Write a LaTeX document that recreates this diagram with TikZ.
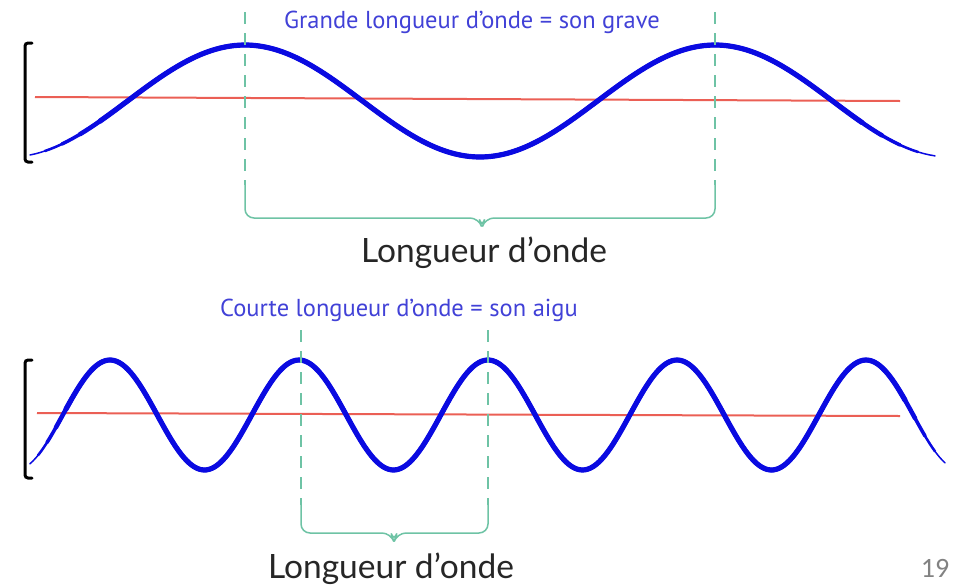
\documentclass[tikz,border=0pt]{standalone}
\usepackage{fontspec}
\newfontfamily\labelfont{PT Sans}
\newfontfamily\lenfont{Lato}
\newfontfamily\pagefont{Carlito}
\definecolor{waveblue}{RGB}{10,10,225}
\definecolor{axisred}{RGB}{235,95,85}
\definecolor{guidegreen}{RGB}{110,195,165}
\definecolor{labelblue}{RGB}{65,65,215}
\definecolor{pagegray}{RGB}{130,130,130}
\begin{document}
\begin{tikzpicture}[x=1pt,y=-1pt,
  wave/.style={waveblue,line cap=round},
  axis/.style={axisred,line width=2pt},
  bracket/.style={black,line width=3pt,rounded corners=3pt,line cap=round},
  guide/.style={guidegreen,line width=1.5pt,dash pattern=on 12pt off 9pt},
  brace/.style={guidegreen,line width=1.5pt,rounded corners=9pt},
  bluelabel/.style={text=labelblue,font=\labelfont\fontsize{24.5}{28}\selectfont,inner sep=0pt},
  lenlabel/.style={text=black!85,font=\lenfont\fontsize{33.5}{38}\selectfont,inner sep=0pt},
  pagenum/.style={text=pagegray,font=\pagefont\fontsize{28}{32}\selectfont,inner sep=0pt}]
\useasboundingbox (0,0) rectangle (966,584);
% long wave
\draw[axis] (35,97) -- (900,101);
\foreach \w/\a/\b in {1.5/30/935,2.5/45/918,3.5/62/900,4.5/80/882,5.2/100/862}
  \draw[wave,line width=\w pt] plot[domain=\a:\b,samples=160] (\x,{101-56*cos((\x-245)/470*360)});
\draw[bracket] (32,43) -- (25,43) -- (25,162) -- (32,162);
\coordinate (a1) at (245,185);
\coordinate (a2) at (715,185);
\draw[guide] (245,12) -- (a1);
\draw[guide] (715,12) -- (a2);
\draw[brace] (a1) -- (245,218) -- (479,218) -- (482,228) -- (485,218) -- (715,218) -- (a2);
\node[bluelabel] (grave) at (472,22) {Grande longueur d’onde = son grave};
\node[lenlabel] (lambdaA) at (484,253) {Longueur d’onde};
% short wave
\draw[axis] (37,413) -- (900,416);
\foreach \w/\a/\b in {1.5/30/945,2.5/38/935,3.5/47/925,4.5/56/915,5.2/66/905}
  \draw[wave,line width=\w pt] plot[domain=\a:\b,samples=300] (\x,{415-55*cos((\x-110)/189*360)});
\draw[bracket] (32,360) -- (25,360) -- (25,478) -- (32,478);
\coordinate (b1) at (301,505);
\coordinate (b2) at (488,505);
\draw[guide] (301,330) -- (b1);
\draw[guide] (488,330) -- (b2);
\draw[brace] (b1) -- (301,533) -- (391,533) -- (394,542) -- (397,533) -- (488,533) -- (b2);
\node[bluelabel] (aigu) at (399,310) {Courte longueur d’onde = son aigu};
\node[lenlabel] (lambdaB) at (391,569) {Longueur d’onde};
\node[pagenum] (page) at (935,568) {19};
\end{tikzpicture}
\end{document}
